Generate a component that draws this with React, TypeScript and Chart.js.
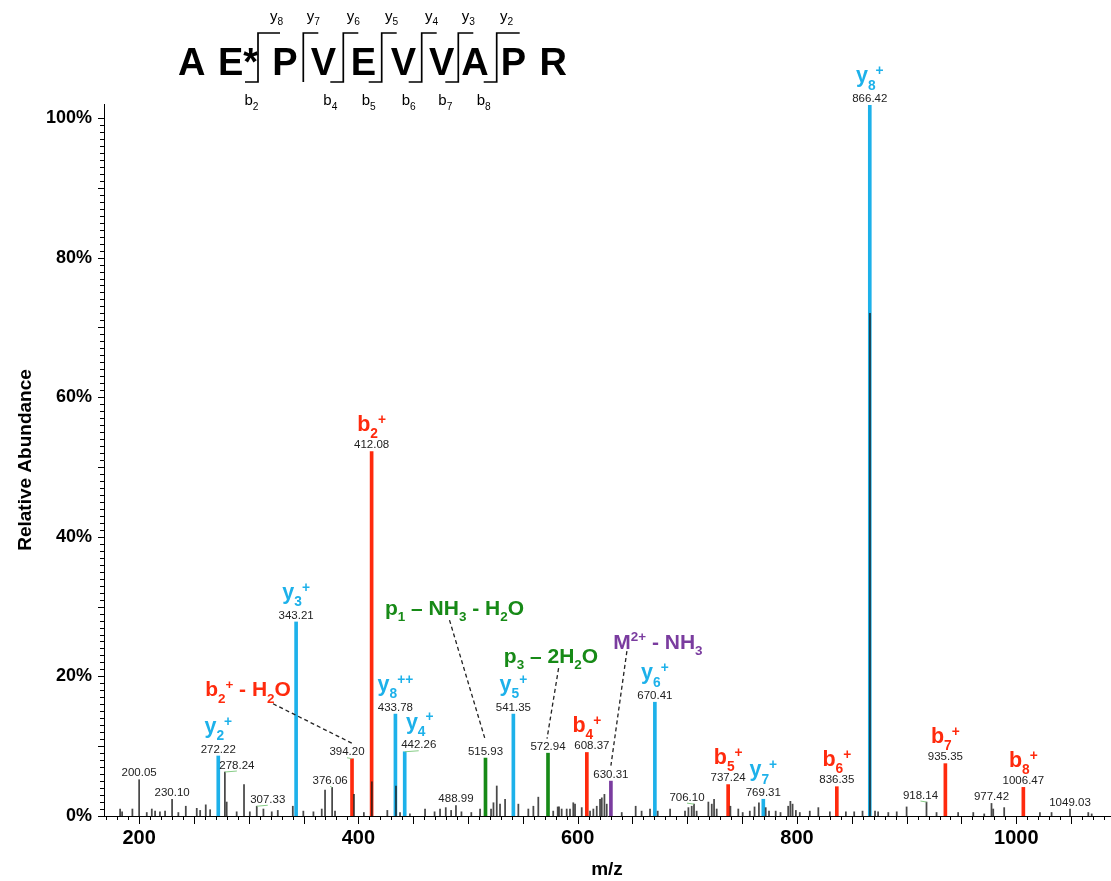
import React, { useEffect, useRef } from 'react';
import { Chart, registerables } from 'chart.js';

Chart.register(...registerables);

const FONT = '"Liberation Sans", Arial, Helvetica, sans-serif';

// ---------------- axes ----------------
const mzRange = [168, 1085.5];
const xTickLabels = [200, 400, 600, 800, 1000];
const yTickStep = 20;
const yMaxValue = 102;

// ---------------- assigned peaks ----------------
const yIonMz = [272.22, 343.21, 433.78, 442.26, 541.35, 670.41, 769.31, 866.42];
const yIonInt = [8.6, 27.8, 14.6, 9.2, 14.6, 16.3, 2.4, 101.8];
const yIonNames = ['y_{2}^{+}', 'y_{3}^{+}', 'y_{8}^{++}', 'y_{4}^{+}', 'y_{5}^{+}', 'y_{6}^{+}', 'y_{7}^{+}', 'y_{8}^{+}'];

const bIonMz = [394.2, 412.08, 608.37, 737.24, 836.35, 935.35, 1006.47];
const bIonInt = [8.2, 52.2, 9.1, 4.5, 4.2, 7.5, 4.1];
const bIonNames = ['b_{2}^{+} - H_{2}O', 'b_{2}^{+}', 'b_{4}^{+}', 'b_{5}^{+}', 'b_{6}^{+}', 'b_{7}^{+}', 'b_{8}^{+}'];

const pIonMz = [515.93, 572.94];
const pIonInt = [8.3, 9.0];
const pIonNames = ['p_{1} – NH_{3} - H_{2}O', 'p_{3} – 2H_{2}O'];

const mIonMz = [630.31];
const mIonInt = [5.0];
const mIonNames = ['M^{2+} - NH_{3}'];

// ---------------- unassigned peaks ----------------
const otherMz = [
  182.7, 184.5, 193.9, 200.05, 207, 211.6, 214.6, 219, 223.7, 230.1, 235.8, 242.6, 252.6, 255.7, 260.8,
  264.8, 278.24, 279.9, 289, 295.7, 301, 307.33, 313.4, 321, 326.5, 340.2, 349.8, 359, 366.6, 369.6,
  376.06, 378.7, 396, 405, 412.3, 426.4, 434.3, 438, 447, 460.8, 469.5, 474.5, 479.7, 484.6, 488.99,
  494, 503, 511, 521, 523.2, 526.2, 529.2, 533.8, 545.9, 555, 559.6, 564.1, 577.7, 581.8, 583, 585.4,
  590, 593, 596, 597.6, 603.7, 611.3, 614.3, 617.4, 620.4, 622, 624.4, 626.5, 640.2, 652.9, 658.3, 666,
  673, 684.3, 697.9, 701, 704, 706.1, 708.5, 719.2, 722.3, 724.4, 726.8, 739.3, 746.5, 750.5, 757, 761.3,
  765.3, 771.5, 774.5, 780.6, 785, 792, 794, 796, 799, 802.6, 811.7, 819.5, 830, 844.6, 852.2, 859.8,
  866.6, 871.2, 874, 883.3, 891, 900, 918.14, 927.3, 947, 960.8, 970.8, 977.42, 979, 989, 1021.6, 1032.2,
  1049.03, 1065.7, 1068.8,
];
const otherInt = [
  1.0, 0.6, 1.0, 5.2, 0.5, 1.0, 0.7, 0.6, 0.7, 2.4, 0.5, 1.4, 1.1, 0.8, 1.6,
  0.9, 6.3, 2.0, 0.6, 4.5, 0.6, 1.4, 1.0, 0.6, 0.8, 1.4, 0.7, 0.6, 1.0, 3.7,
  4.1, 0.7, 3.1, 0.5, 4.9, 0.8, 4.3, 0.5, 0.3, 1.0, 0.6, 1.0, 1.2, 0.8, 1.5,
  0.6, 0.5, 1.0, 1.0, 1.9, 4.3, 1.7, 2.4, 1.7, 1.0, 1.4, 2.7, 0.7, 1.3, 1.3, 1.0,
  1.0, 1.0, 1.9, 1.7, 1.2, 0.7, 1.0, 1.4, 2.4, 2.6, 3.1, 1.7, 0.5, 1.4, 0.7, 1.0,
  0.7, 1.0, 0.7, 1.2, 1.4, 1.7, 0.7, 2.0, 1.7, 2.4, 1.0, 1.4, 1.0, 0.5, 0.7, 1.3,
  1.9, 1.2, 0.7, 0.7, 0.5, 1.4, 2.1, 1.7, 0.8, 0.5, 0.7, 1.2, 0.6, 0.6, 0.6, 0.7,
  72.0, 0.7, 0.6, 0.5, 0.6, 1.3, 2.0, 0.5, 0.5, 0.5, 0.3, 1.8, 1.0, 1.2, 0.5, 0.5,
  1.0, 0.5, 0.3,
];
const otherLabelled = [200.05, 230.1, 278.24, 307.33, 376.06, 488.99, 706.1, 918.14, 977.42, 1049.03];

// ---------------- peptide sequence ----------------
const sequence = ['A', 'E*', 'P', 'V', 'E', 'V', 'V', 'A', 'P', 'R'];
const yFragments = [8, 7, 6, 5, 4, 3, 2];
const bFragments = [2, 0, 4, 5, 6, 7, 8];

// ---------------- layout (pixels) ----------------
const COLORS = { y: '#1DB1EA', b: '#FF2A0D', p: '#178A17', m: '#7A3C9F', other: 'rgba(28,28,28,0.8)' };
const seqLetterX = [191.7, 238, 285, 323.3, 363.3, 403.3, 441.7, 475, 513.3, 553.3];
const seqCutX = [258, 303.3, 343.3, 381.7, 421.7, 458.3, 496.7];
const seqTopLen = [22, 15, 15, 15, 15, 15, 23];
const numberShift: Record<string, number> = {
  '278.24': 12, '307.33': 11, '376.06': -2, '394.20': -5, '442.26': 14, '608.37': 5, '706.10': -7, '918.14': -6,
};
const greenLeader = ['278.24', '307.33', '376.06', '394.20', '442.26', '706.10', '918.14'];
const ionLabelShift: Record<string, number> = { '442.26': 15 };
const callouts: Record<string, { tx: number; ty: number; sx: number; sy: number; ex: number; ey: number }> = {
  '394.20': { tx: -104, ty: -70, sx: 25, sy: 15, ex: 5, ey: -9 },
  '515.93': { tx: -31, ty: -151, sx: -5, sy: 13, ex: 0, ey: -11 },
  '572.94': { tx: 3, ty: -98, sx: 7.6, sy: 13, ex: -1, ey: -8 },
  '630.31': { tx: 47, ty: -140, sx: -31, sy: 10, ex: 0, ey: -9 },
};

type Seg = { t: string; k: '' | 'sub' | 'sup' };
function parseRich(s: string): Seg[] {
  const out: Seg[] = [];
  const re = /_\{([^}]*)\}|\^\{([^}]*)\}|([^_^]+)/g;
  let m: RegExpExecArray | null;
  while ((m = re.exec(s))) {
    if (m[1] !== undefined) out.push({ t: m[1], k: 'sub' });
    else if (m[2] !== undefined) out.push({ t: m[2], k: 'sup' });
    else out.push({ t: m[3], k: '' });
  }
  return out;
}

function drawRich(
  ctx: CanvasRenderingContext2D, s: string, cx: number, baseline: number, size: number,
  color: string, weight: string, smallRatio = 0.64, subDy = 0.3, supDy = -0.36,
) {
  const segs = parseRich(s);
  const small = size * smallRatio;
  const widths = segs.map((sg) => {
    ctx.font = `${weight} ${sg.k ? small : size}px ${FONT}`;
    return ctx.measureText(sg.t).width;
  });
  const total = widths.reduce((a, b) => a + b, 0);
  let x = cx - total / 2;
  ctx.fillStyle = color;
  ctx.textAlign = 'left';
  ctx.textBaseline = 'alphabetic';
  segs.forEach((sg, i) => {
    ctx.font = `${weight} ${sg.k ? small : size}px ${FONT}`;
    const dy = sg.k === 'sub' ? size * subDy : sg.k === 'sup' ? size * supDy : 0;
    ctx.fillText(sg.t, x, baseline + dy);
    x += widths[i];
  });
}

const annotationPlugin = {
  id: 'spectrumAnnotations',
  afterDraw(chart: any) {
    const ctx: CanvasRenderingContext2D = chart.ctx;
    const xs = chart.scales.x;
    const ys = chart.scales.y;
    const area = chart.chartArea;
    ctx.save();

    // axis minor ticks
    ctx.strokeStyle = '#000';
    ctx.lineWidth = 1;
    const startX = Math.ceil(xs.min / 10);
    const endX = Math.floor(xs.max / 10);
    for (let k = startX; k <= endX; k++) {
      const v = k * 10;
      const px = Math.round(xs.getPixelForValue(v)) + 0.5;
      const len = v % 50 === 0 ? 8 : 4;
      ctx.beginPath();
      ctx.moveTo(px, area.bottom);
      ctx.lineTo(px, area.bottom + len);
      ctx.stroke();
    }
    for (let v = 0; v <= 100; v++) {
      const py = Math.round(ys.getPixelForValue(v)) + 0.5;
      const len = v % 10 === 0 ? 6 : 4;
      ctx.beginPath();
      ctx.moveTo(area.left - len, py);
      ctx.lineTo(area.left, py);
      ctx.stroke();
    }

    const drawNumber = (mz: number, intensity: number) => {
      const key = mz.toFixed(2);
      const x = xs.getPixelForValue(mz);
      const top = ys.getPixelForValue(intensity);
      const ncx = x + (numberShift[key] ?? 0);
      const ncy = top - 6.5;
      if (greenLeader.includes(key)) {
        ctx.strokeStyle = '#86cc86';
        ctx.lineWidth = 1;
        ctx.beginPath();
        ctx.moveTo(x, top);
        ctx.lineTo(ncx, ncy + 5.5);
        ctx.stroke();
      }
      ctx.font = `11.5px ${FONT}`;
      ctx.fillStyle = '#222';
      ctx.textAlign = 'center';
      ctx.textBaseline = 'middle';
      ctx.fillText(key, ncx, ncy);
      return { x, top, ncx, ncy, key };
    };

    const drawSeries = (mzs: number[], ints: number[], names: string[], color: string) => {
      mzs.forEach((mz, i) => {
        const { x, top, ncx, ncy, key } = drawNumber(mz, ints[i]);
        const co = callouts[key];
        if (co) {
          const cx = x + co.tx;
          const cy = top + co.ty;
          drawRich(ctx, names[i], cx, cy + 21 * 0.36, 21, color, 'bold', 0.64, 0.3, -0.36);
          ctx.save();
          ctx.strokeStyle = '#222';
          ctx.lineWidth = 1.3;
          ctx.setLineDash([4, 3]);
          ctx.beginPath();
          ctx.moveTo(cx + co.sx, cy + co.sy);
          ctx.lineTo(ncx + co.ex, ncy + co.ey);
          ctx.stroke();
          ctx.restore();
        } else {
          const isY = names[i].startsWith('y');
          const base = ncy - (isY ? 16.5 : 14);
          drawRich(ctx, names[i], x + (ionLabelShift[key] ?? 0), base, 21.5, color, 'bold', 0.64, 0.34, -0.34);
        }
      });
    };

    drawSeries(yIonMz, yIonInt, yIonNames, COLORS.y);
    drawSeries(bIonMz, bIonInt, bIonNames, COLORS.b);
    drawSeries(pIonMz, pIonInt, pIonNames, COLORS.p);
    drawSeries(mIonMz, mIonInt, mIonNames, COLORS.m);
    otherLabelled.forEach((mz) => {
      const idx = otherMz.indexOf(mz);
      if (idx >= 0) drawNumber(mz, otherInt[idx]);
    });

    // peptide sequence header
    ctx.fillStyle = '#000';
    ctx.textAlign = 'center';
    ctx.textBaseline = 'alphabetic';
    ctx.font = `bold 38px ${FONT}`;
    sequence.forEach((aa, i) => ctx.fillText(aa, seqLetterX[i], 75));
    ctx.strokeStyle = '#000';
    ctx.lineWidth = 1.7;
    const topY = 33;
    const botY = 82;
    seqCutX.forEach((cx, i) => {
      ctx.beginPath();
      if (bFragments[i]) {
        ctx.moveTo(cx - 13, botY);
        ctx.lineTo(cx, botY);
      } else {
        ctx.moveTo(cx, botY);
      }
      ctx.lineTo(cx, topY);
      ctx.lineTo(cx + seqTopLen[i], topY);
      ctx.stroke();
      drawRich(ctx, `y_{${yFragments[i]}}`, cx + (i === 0 ? 18.7 : 10), 20.5, 15, '#000', 'normal', 0.68, 0.3, -0.3);
      if (bFragments[i]) {
        drawRich(ctx, `b_{${bFragments[i]}}`, cx - (i === 0 ? 6.5 : 13), 105, 15, '#000', 'normal', 0.68, 0.3, -0.3);
      }
    });

    ctx.restore();
  },
};

const toPoints = (mzs: number[], ints: number[]) => mzs.map((x, i) => ({ x, y: ints[i] }));

export default function App() {
  const ref = useRef<HTMLCanvasElement | null>(null);
  useEffect(() => {
    document.body.style.margin = '0';
    const canvas = ref.current;
    if (!canvas) return;
    const chart = new Chart(canvas, {
      type: 'bar',
      data: {
        datasets: [
          { label: 'other', data: toPoints(otherMz, otherInt) as any, backgroundColor: COLORS.other, barThickness: 1.1, order: 0 },
          { label: 'y ions', data: toPoints(yIonMz, yIonInt) as any, backgroundColor: COLORS.y, barThickness: 3, order: 1 },
          { label: 'b ions', data: toPoints(bIonMz, bIonInt) as any, backgroundColor: COLORS.b, barThickness: 3, order: 1 },
          { label: 'p ions', data: toPoints(pIonMz, pIonInt) as any, backgroundColor: COLORS.p, barThickness: 3, order: 1 },
          { label: 'M ions', data: toPoints(mIonMz, mIonInt) as any, backgroundColor: COLORS.m, barThickness: 3, order: 1 },
        ],
      },
      options: {
        animation: false,
        responsive: false,
        maintainAspectRatio: false,
        events: [],
        layout: { padding: { top: 104, left: 0, right: 1, bottom: 0 } },
        datasets: { bar: { grouped: false, borderWidth: 0 } } as any,
        plugins: { legend: { display: false }, tooltip: { enabled: false } },
        scales: {
          x: {
            type: 'linear',
            min: mzRange[0],
            max: mzRange[1],
            offset: false,
            grid: { display: false, drawTicks: false },
            border: { display: true, color: '#000', width: 1 },
            ticks: {
              stepSize: 200,
              includeBounds: false,
              autoSkip: false,
              maxRotation: 0,
              padding: 10,
              color: '#000',
              font: { family: FONT, size: 20, weight: 'bold' },
              callback: (v: any) => (xTickLabels.includes(Number(v)) ? String(v) : ''),
            },
            title: {
              display: true,
              text: 'm/z',
              color: '#000',
              font: { family: FONT, size: 19, weight: 'bold' },
              padding: { top: 0, bottom: 0 },
            },
            afterFit: (s: any) => { s.height = 65; },
          } as any,
          y: {
            type: 'linear',
            min: 0,
            max: yMaxValue,
            grid: { display: false, drawTicks: false },
            border: { display: true, color: '#000', width: 1 },
            ticks: {
              stepSize: yTickStep,
              includeBounds: false,
              autoSkip: false,
              padding: 12,
              color: '#000',
              font: { family: FONT, size: 18, weight: 'bold' },
              callback: (v: any) => `${v}%`,
            },
            title: {
              display: true,
              text: 'Relative Abundance',
              color: '#000',
              font: { family: FONT, size: 19, weight: 'bold' },
              padding: { top: 14, bottom: 0 },
            },
            afterFit: (s: any) => { s.width = 104; },
          } as any,
        },
      },
      plugins: [annotationPlugin],
    });
    return () => chart.destroy();
  }, []);
  return <canvas ref={ref} width={1111} height={881} style={{ display: 'block' }} />;
}
